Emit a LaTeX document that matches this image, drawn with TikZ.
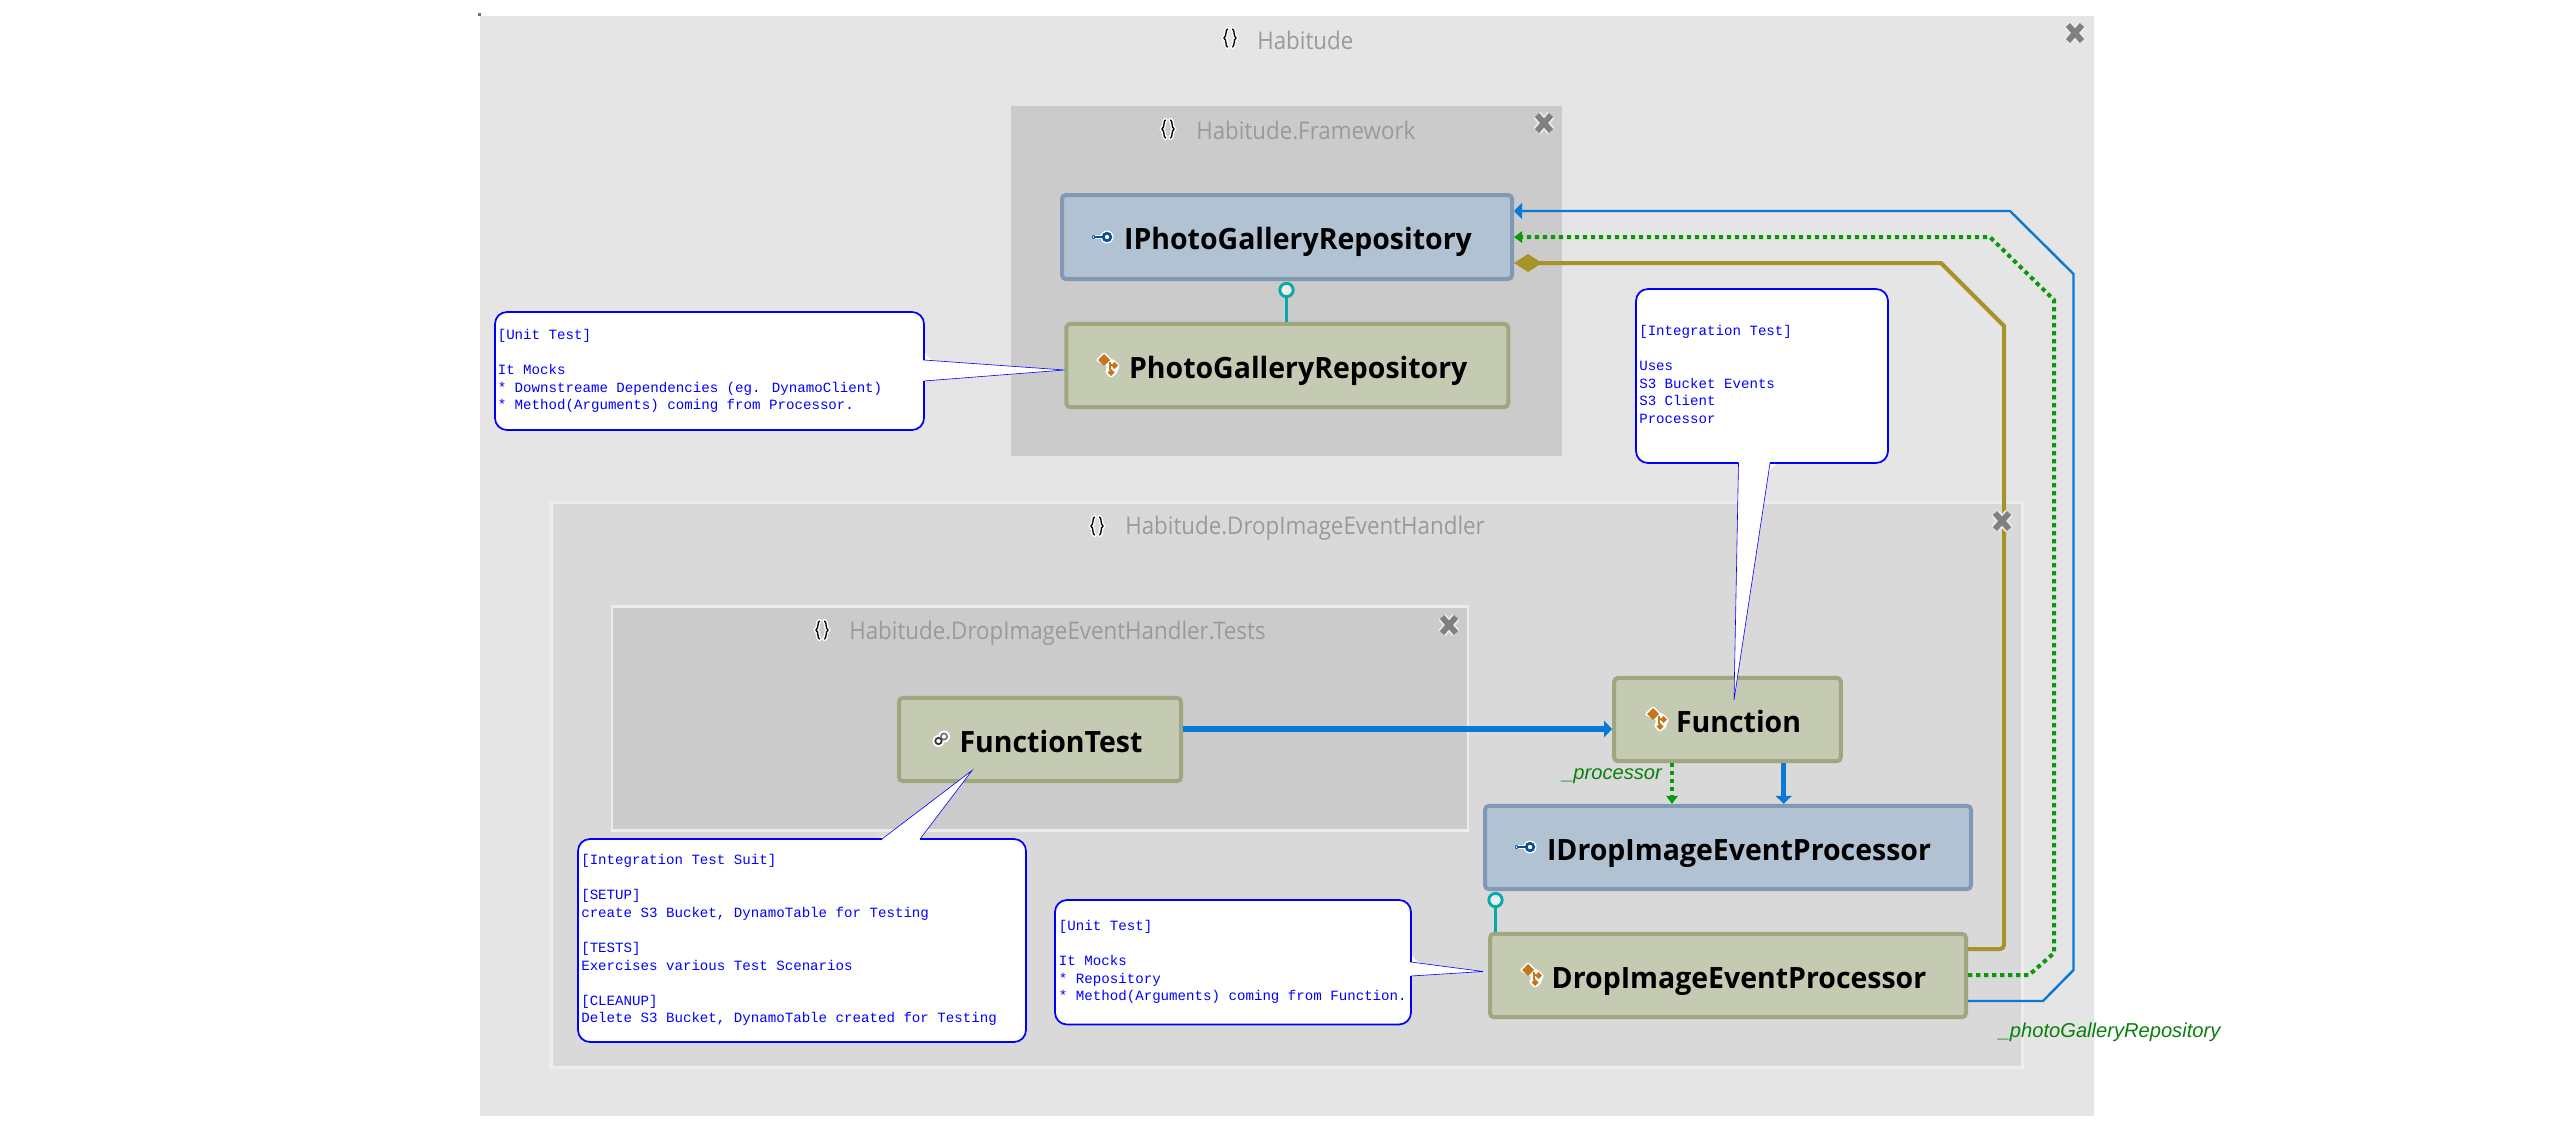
\documentclass[tikz,border=0pt]{standalone}
\usepackage{fontspec}
\usetikzlibrary{arrows.meta}
\setmainfont{Liberation Sans}
\newfontfamily\boxfont[FakeStretch=0.97]{Open Sans}
\newfontfamily\titlefont[FakeStretch=0.92]{Open Sans}
\newfontfamily\notefont{Liberation Mono}
\definecolor{outerbg}{HTML}{E5E5E5}
\definecolor{midbg}{HTML}{D9D9D9}
\definecolor{innerbg}{HTML}{CBCBCB}
\definecolor{frameln}{HTML}{EDEDED}
\definecolor{ifill}{HTML}{B1C2D2}
\definecolor{iline}{HTML}{8199B3}
\definecolor{cfill}{HTML}{C5CAB3}
\definecolor{cline}{HTML}{A0A67F}
\definecolor{lolly}{HTML}{0AA9A9}
\definecolor{flow}{HTML}{0A78D7}
\definecolor{owned}{HTML}{A89328}
\definecolor{dep}{HTML}{089A08}
\definecolor{deplabel}{HTML}{0A800A}
\definecolor{titlegray}{HTML}{9A9A9A}
\definecolor{closegray}{HTML}{808080}
\definecolor{orangeic}{HTML}{C4761F}
\definecolor{blueic}{HTML}{0A4F9E}
\tikzset{
  region/.style={draw=none,rectangle,inner sep=0pt,outer sep=0pt},
  typebox/.style={rectangle,rounded corners=3pt,line width=3pt,inner sep=0pt,outer sep=1.5pt,
    font=\boxfont\fontsize{22pt}{24pt}\selectfont\bfseries,text=black,
    text height=18.8pt,text depth=0pt,
    execute at begin node={\hspace*{16.5pt}}},
  ibox/.style={typebox,fill=ifill,draw=iline},
  cbox/.style={typebox,fill=cfill,draw=cline},
  regiontitle/.style={anchor=west,inner sep=0pt,text=titlegray,font=\titlefont\fontsize{18.2pt}{20pt}\selectfont},
  balloonfill/.style={fill=white,rounded corners=9pt},
  balloon/.style={draw=blue,line width=1.3pt,rounded corners=9pt,line join=round},
  balloontail/.style={draw=blue,line width=.45pt,line join=miter},
  notetext/.style={anchor=north west,inner sep=0pt,align=left,text=blue,
    font=\notefont\fontsize{10.6pt}{13.2pt}\selectfont},
  lollyhead/.style={circle,draw=lolly,fill=frameln,line width=2.2pt,minimum size=10pt,inner sep=0pt,outer sep=0pt},
  lollyline/.style={draw=lolly,line width=2.2pt},
  flowthick/.style={draw=flow,line width=4pt,-{Triangle[length=6pt,width=12pt]}},
  flowthin/.style={draw=flow,line width=1.8pt,-{Triangle[length=6pt,width=12pt]}},
  ownedline/.style={draw=owned,line width=3pt,-{Diamond[length=21pt,width=13.5pt]}},
  depline/.style={draw=dep,line width=3pt,dash pattern=on 3.2pt off 2.8pt,-{Triangle[length=6pt,width=8.5pt]}},
  deptext/.style={anchor=west,inner sep=0pt,text=deplabel,font=\fontsize{15.1pt}{17pt}\selectfont\itshape},
}
\newcommand{\nsicon}[2]{%
  \begin{scope}[shift={(#1,#2)}]
    \foreach \lw/\cc in {3.2pt/white,1pt/black}{
      \draw[line width=\lw,color=\cc,line cap=round] (-2.5,-9) .. controls (-5,-8) and (-3,-2) .. (-6,0) .. controls (-3,2) and (-5,8) .. (-2.5,9);
      \draw[line width=\lw,color=\cc,line cap=round] (2.5,-9) .. controls (5,-8) and (3,-2) .. (6,0) .. controls (3,2) and (5,8) .. (2.5,9);
    }
  \end{scope}}
\newcommand{\closeicon}[2]{%
  \begin{scope}[shift={(#1,#2)}]
    \foreach \lw/\cc in {7pt/frameln,4.4pt/closegray}{
      \draw[line width=\lw,color=\cc] (-7,-8) -- (7,8) (7,-8) -- (-7,8);
    }
  \end{scope}}
\newcommand{\classicon}[2]{%
  \begin{scope}[shift={(#1,#2)}]
    \draw[white,line width=2.4pt,line join=round] (-5,-11) -- (1,-5) -- (5,-3) -- (9,1) -- (6,8) -- (2,11) -- (-2,7) -- (0,1) -- (-11,-5) -- cycle;
    \fill[white] (-5,-11) -- (1,-5) -- (5,-3) -- (9,1) -- (6,8) -- (2,11) -- (-2,7) -- (0,1) -- (-11,-5) -- cycle;
    \fill[orangeic] (-5,-11) -- (1,-5) -- (-5,1) -- (-11,-5) -- cycle;
    \fill[orangeic] (5.5,-3) -- (9,0.5) -- (5.5,4) -- (2,0.5) -- cycle;
    \fill[orangeic] (2,4) -- (5.5,7.5) -- (2,11) -- (-1.5,7.5) -- cycle;
    \draw[orangeic,line width=.8pt] (1,-3) -- (1,5) (1,0) -- (3,0);
  \end{scope}}
\newcommand{\ifaceicon}[2]{%
  \begin{scope}[shift={(#1,#2)}]
    \draw[white,line width=3pt,line cap=round] (-9,0) -- (6,0);
    \fill[white] (5,0) circle (6.5);
    \draw[blueic,line width=1.2pt] (-8,0) -- (1,0);
    \fill[blueic] (-8.5,0) circle (2);
    \fill[white] (-8.5,0) circle (.8);
    \draw[blueic,line width=2pt] (5,0) circle (3.8);
  \end{scope}}
\newcommand{\linkicon}[2]{%
  \begin{scope}[shift={(#1,#2)}]
    \fill[white] (-2.5,2) circle (6); \fill[white] (3,-2.5) circle (6);
    \draw[black!80,line width=1.3pt] (-2.5,2) circle (3.2);
    \draw[black!60,line width=1.1pt] (3,-2.5) circle (3.2);
  \end{scope}}
\begin{document}
\begin{tikzpicture}[x=.75pt,y=-.75pt]
\useasboundingbox (0,0) rectangle (2573,1132);
\fill[white] (0,0) rectangle (2573,1132);
% regions
\fill[black!55] (477.5,13) rectangle (480.5,16);
\node[region,fill=outerbg,minimum width=1210.5pt,minimum height=825pt] (habitude) at (1286.5,566) {};
\node[region,fill=innerbg,minimum width=413.25pt,minimum height=262.5pt] (framework) at (1286.5,281) {};
\node[region,fill=midbg,draw=frameln,line width=2.6pt,minimum width=1103.6pt,minimum height=423.4pt] (handler) at (1286.5,785) {};
\node[region,fill=innerbg,draw=frameln,line width=2.2pt,minimum width=642pt,minimum height=168pt] (tests) at (1040,718.5) {};
% region titles
\nsicon{1230}{38}
\node[regiontitle] (t1) at (1257,40.5) {Habitude};
\nsicon{1168}{129}
\node[regiontitle] (t2) at (1196,130) {Habitude.Framework};
\nsicon{1097}{526}
\node[regiontitle] (t3) at (1125,528) {Habitude.DropImageEventHandler};
\nsicon{822}{630}
\node[regiontitle] (t4) at (849,633) {Habitude.DropImageEventHandler.Tests};
% type boxes
\node[ibox,minimum width=337.5pt,minimum height=63pt] (iphoto) at (1287,237) {IPhotoGalleryRepository};
\node[cbox,minimum width=331.5pt,minimum height=62.5pt] (photo) at (1287.25,365.5) {PhotoGalleryRepository};
\node[cbox,minimum width=211.5pt,minimum height=62.5pt] (ftest) at (1040,739.5) {FunctionTest};
\node[cbox,minimum width=170pt,minimum height=62.5pt] (func) at (1727.5,719.5) {Function};
\node[ibox,minimum width=364.5pt,minimum height=62.5pt] (idrop) at (1728,847.5) {IDropImageEventProcessor};
\node[cbox,minimum width=357pt,minimum height=62.5pt] (drop) at (1728,975.5) {DropImageEventProcessor};
\ifaceicon{1102}{237}
\classicon{1109}{365}
\linkicon{941}{739}
\classicon{1658}{719}
\ifaceicon{1525}{847}
\classicon{1533}{975}
% connector bend points
\coordinate (b1) at (1968,949);
\coordinate (b2) at (2004,949);
\coordinate (b3) at (2004,326);
\coordinate (b4) at (1941,263);
\coordinate (g1) at (1968,975);
\coordinate (g2) at (2029,975);
\coordinate (g3) at (2054,953);
\coordinate (g4) at (2054,300);
\coordinate (g5) at (1990,237);
\coordinate (f1) at (1968,1001);
\coordinate (f2) at (2043,1001);
\coordinate (f3) at (2073.5,970);
\coordinate (f4) at (2073.5,274);
\coordinate (f5) at (2010,211);
% connectors
\node[lollyhead] (lp1) at (1286.5,290) {};
\draw[lollyline] (lp1) -- (lp1 |- photo.north);
\node[lollyhead] (lp2) at (1495.5,900) {};
\draw[lollyline] (lp2) -- (lp2 |- drop.north);
\coordinate (s1) at (1183,729);
\draw[flowthick] (ftest.east |- s1) -- (func.west |- s1);
\draw[flowthick] (func.south -| 1783.7,0) -- (idrop.north -| 1783.7,0);
\draw[depline] (func.south -| 1672,0) -- (idrop.north -| 1672,0);
\draw[ownedline,rounded corners=3pt] (b1) -- (b2) [sharp corners] -- (b3) -- (b4) -- (iphoto.east |- b4);
\draw[depline] (g1) -- (g2) -- (g3) -- (g4) -- (g5) -- (iphoto.east |- g5);
\draw[flowthin] (f1) -- (f2) -- (f3) -- (f4) -- (f5) -- (iphoto.east |- f5);
\node[deptext] (l1) at (1562,776) {\_processor};
\node[deptext] (l2) at (1998.5,1032) {\_photoGalleryRepository};
% close marks
\closeicon{2075}{33}
\closeicon{1544}{123}
\closeicon{2002}{521}
\closeicon{1449}{625}
% callouts
\coordinate (c1tip) at (1064.5,370);
\coordinate (c2tip) at (1734,700);
\coordinate (c3tip) at (972,770.5);
\coordinate (c4tip) at (1483,971.5);
\fill[balloonfill] (924,381) -- (924,430) -- (495,430) -- (495,312) -- (924,312) -- (924,360) [sharp corners] -- (c1tip) -- cycle;
\draw[balloon] (924,381) -- (924,430) -- (495,430) -- (495,312) -- (924,312) -- (924,360);
\draw[balloontail] (924,360) -- (c1tip) -- (924,381);
\fill[balloonfill] (1738.5,463) -- (1636,463) -- (1636,289) -- (1888,289) -- (1888,463) -- (1770,463) [sharp corners] -- (c2tip) -- cycle;
\draw[balloon] (1738.5,463) -- (1636,463) -- (1636,289) -- (1888,289) -- (1888,463) -- (1770,463);
\draw[balloontail] (1770,463) -- (c2tip) -- (1738.5,463);
\fill[balloonfill] (920,839) -- (1026,839) -- (1026,1042) -- (578,1042) -- (578,839) -- (882,839) [sharp corners] -- (c3tip) -- cycle;
\draw[balloon] (920,839) -- (1026,839) -- (1026,1042) -- (578,1042) -- (578,839) -- (882,839);
\draw[balloontail] (882,839) -- (c3tip) -- (920,839);
\fill[balloonfill] (1411,976) -- (1411,1024.5) -- (1055,1024.5) -- (1055,900) -- (1411,900) -- (1411,962) [sharp corners] -- (c4tip) -- cycle;
\draw[balloon] (1411,976) -- (1411,1024.5) -- (1055,1024.5) -- (1055,900) -- (1411,900) -- (1411,962);
\draw[balloontail] (1411,962) -- (c4tip) -- (1411,976);
\node[notetext] (n1) at (497.5,329) {[Unit Test]\\ ~\\It Mocks\\* Downstreame Dependencies (eg. DynamoClient)\\* Method(Arguments) coming from Processor.};
\node[notetext] (n2) at (1639,325) {[Integration Test]\\ ~\\Uses\\S3 Bucket Events\\S3 Client\\Processor};
\node[notetext] (n3) at (581,854) {[Integration Test Suit]\\ ~\\{}[SETUP]\\create S3 Bucket, DynamoTable for Testing\\ ~\\{}[TESTS]\\Exercises various Test Scenarios\\ ~\\{}[CLEANUP]\\Delete S3 Bucket, DynamoTable created for Testing};
\node[notetext] (n4) at (1058.7,920) {[Unit Test]\\ ~\\It Mocks\\* Repository\\* Method(Arguments) coming from Function.};
\end{tikzpicture}
\end{document}
